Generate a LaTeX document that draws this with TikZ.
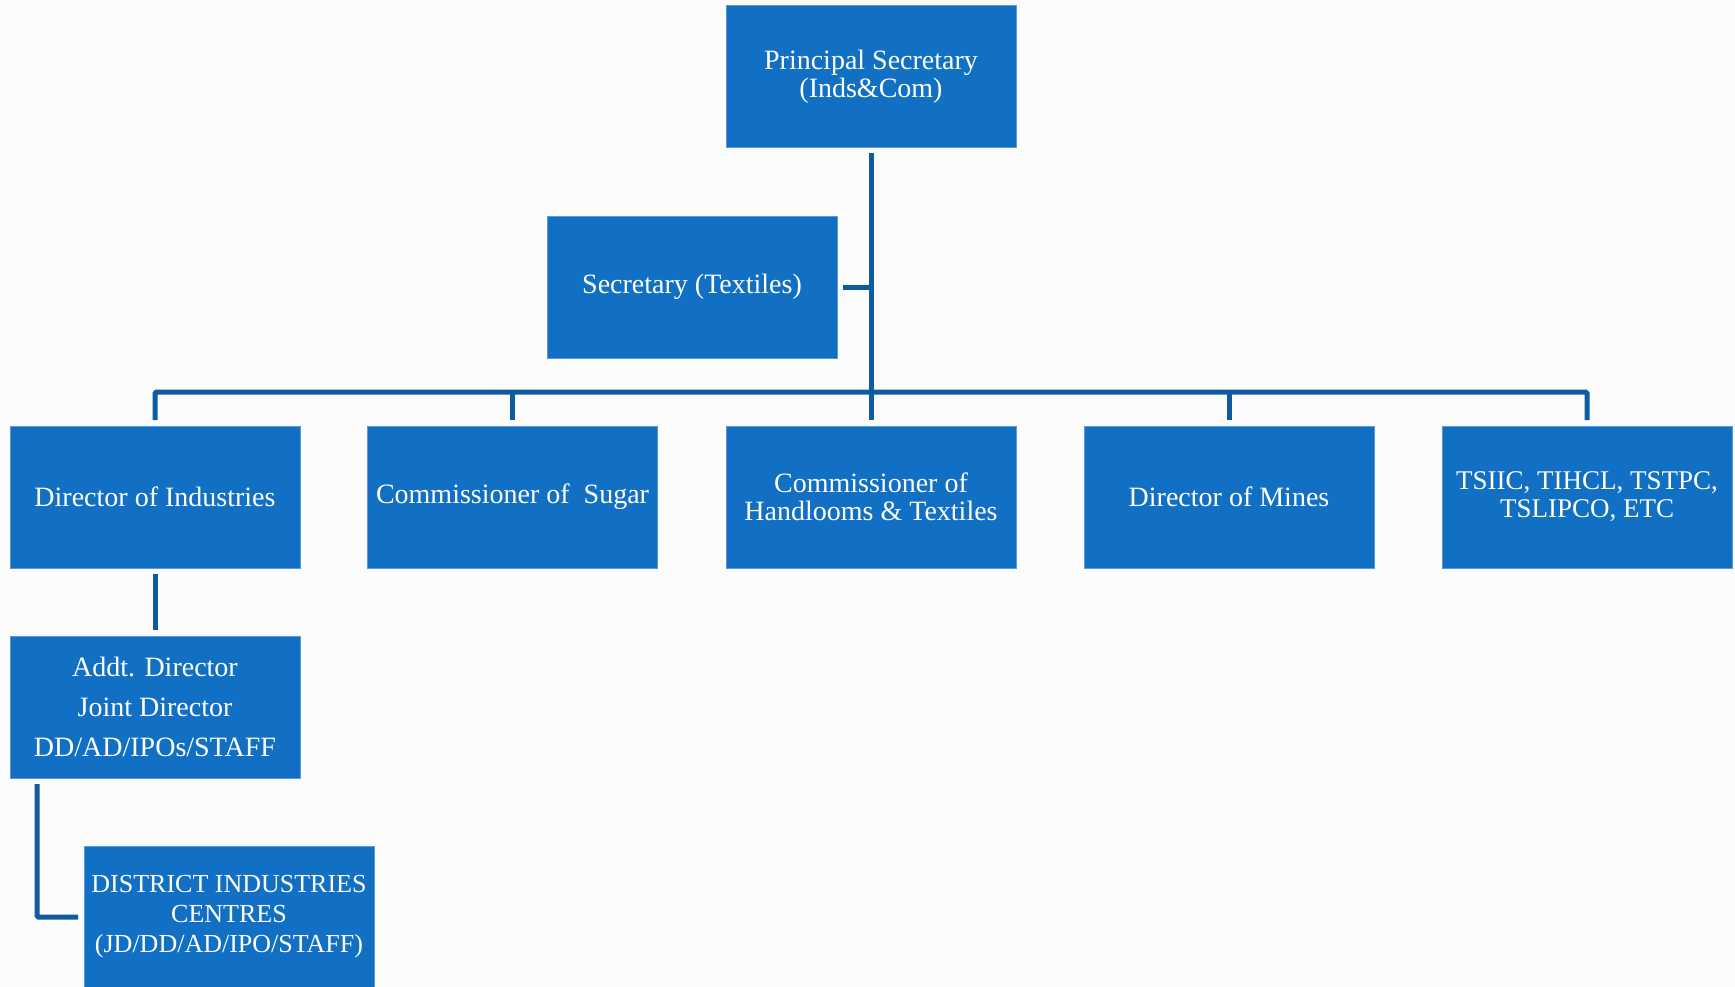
\documentclass[tikz,border=0pt]{standalone}
\usepackage{fontspec}
\setmainfont{Liberation Serif}
\usetikzlibrary{calc}
\definecolor{boxblue}{HTML}{1170C4}
\definecolor{boxedge}{HTML}{5A9AD8}
\definecolor{linkblue}{HTML}{0F5B9F}
\definecolor{bgcol}{HTML}{FCFCFC}
\tikzset{
  orgbox/.style={rectangle, fill=boxblue, draw=boxedge, line width=0.8pt,
    minimum width=290pt, minimum height=142pt, inner sep=0pt, outer sep=0pt,
    text=white, align=center, font=\fontsize{28}{28}\selectfont},
  conn/.style={draw=linkblue, line width=5pt, line cap=butt, rounded corners=1.5pt},
  gap/.style={shorten <=6pt, shorten >=6pt},
}
\begin{document}
\begin{tikzpicture}[x=1pt,y=-1pt]
\fill[bgcol] (0,0) rectangle (1735,987);
\useasboundingbox (0,0) rectangle (1735,987);

\node[orgbox] (ps) at (871,76.5) {Principal Secretary\\(Inds\&Com)};
\node[orgbox] (sec) at (692,287) {Secretary (Textiles)};
\node[orgbox] (dir) at (155,497) {Director of Industries};
\node[orgbox] (sugar) at (512.5,497) {\raisebox{-2pt}{Commissioner of~ Sugar}};
\node[orgbox] (hand) at (871,497) {Commissioner of\\Handlooms \& Textiles};
\node[orgbox] (mines) at (1229,497) {Director of Mines};
\node[orgbox, font=\fontsize{27}{28}\selectfont] (tsiic) at (1587,497) {TSIIC, TIHCL, TSTPC,\\TSLIPCO, ETC};
\node[orgbox, font=\fontsize{28}{40}\selectfont] (addt) at (155,707) {Addt. Director\\Joint Director\\DD/AD/IPOs/STAFF};
\node[orgbox, font=\fontsize{26}{30}\selectfont] (dic) at (229,917) {DISTRICT INDUSTRIES\\CENTRES\\(JD/DD/AD/IPO/STAFF)};

% trunk
\draw[conn, gap] (ps.south) -- (hand.north);
\draw[conn, shorten <=6pt] (sec.east) -- (sec.east -| ps.south);
% bar
\draw[conn, gap] (dir.north) -- ++(0,-34) -| (tsiic.north);
\draw[conn, shorten <=6pt] (sugar.north) -- ++(0,-34);
\draw[conn, shorten <=6pt] (mines.north) -- ++(0,-34);
% director branch
\draw[conn, gap] (dir.south) -- (addt.north);
\draw[conn, gap] ($(addt.south west)+(27,0)$) |- (dic.west);
\end{tikzpicture}
\end{document}
